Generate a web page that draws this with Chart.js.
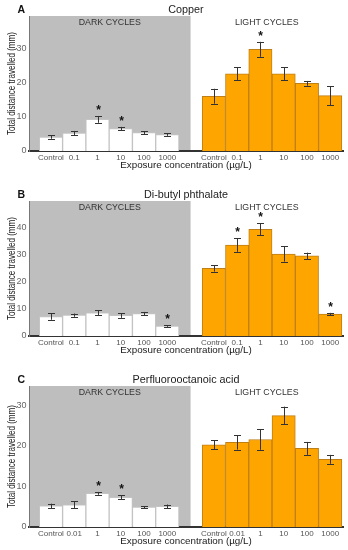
<!DOCTYPE html>
<html><head><meta charset="utf-8">
<script src="https://cdn.jsdelivr.net/npm/chart.js@4.4.1/dist/chart.umd.min.js"></script>
<style>
html,body{margin:0;padding:0;background:#fff;width:348px;height:550px;overflow:hidden;position:relative}
canvas{position:absolute;left:0}
</style></head><body>
<canvas id="cA" width="348" height="185" style="top:0px"></canvas>
<canvas id="cB" width="348" height="185" style="top:185px"></canvas>
<canvas id="cC" width="348" height="180" style="top:370px"></canvas>
<script>
// ---- data ----
const xLabelsA = ['Control','0.1','1','10','100','1000'];
const xLabelsB = ['Control','0.1','1','10','100','1000'];
const xLabelsC = ['Control','0.01','1','10','100','1000'];

const copperDark     = [4.1, 5.3, 9.3, 6.6, 5.4, 4.8];
const copperDarkErr  = [0.5, 0.6, 1.0, 0.5, 0.45, 0.35];
const copperLight    = [16.1, 22.7, 29.9, 22.7, 19.9, 16.3];
const copperLightErr = [2.2, 1.9, 2.2, 1.9, 0.7, 2.8];
const copperDarkSig  = [0,0,1,1,0,0];
const copperLightSig = [0,0,1,0,0,0];

const dbpDark     = [7.2, 7.7, 8.6, 7.6, 8.3, 3.7];
const dbpDarkErr  = [1.2, 0.6, 0.9, 0.9, 0.6, 0.3];
const dbpLight    = [25.0, 33.6, 39.4, 30.3, 29.6, 8.1];
const dbpLightErr = [1.2, 2.5, 2.2, 2.8, 1.2, 0.45];
const dbpDarkSig  = [0,0,0,0,0,1];
const dbpLightSig = [0,1,1,0,0,1];

const pfoaDark     = [5.2, 5.5, 8.3, 7.3, 4.9, 5.1];
const pfoaDarkErr  = [0.55, 0.8, 0.35, 0.5, 0.25, 0.45];
const pfoaLight    = [20.3, 20.9, 21.6, 27.5, 19.4, 16.7];
const pfoaLightErr = [1.15, 1.8, 2.55, 2.2, 1.6, 1.1];
const pfoaDarkSig  = [0,0,1,1,0,0];
const pfoaLightSig = [0,0,0,0,0,0];

const yTicksA = [0, 10, 20, 30];
const yTicksB = [0, 10, 20, 30, 40];
const yTicksC = [0, 10, 20, 30];

const FONT = '"Liberation Sans", Arial, Helvetica, sans-serif';
Chart.defaults.font.family = FONT;

function build(canvasId, letter, title, labels, dark, darkErr, light, lightErr, darkSig, lightSig, yTicks, yMax, plotH){
  const canvas = document.getElementById(canvasId);
  const H = canvas.height;
  const padTop = 16;
  const n = dark.length;
  const gapIdx = n;                 // empty slot between the two groups
  const lightStart = n + 1;
  const values = dark.concat(light);
  const errs = darkErr.concat(lightErr);
  const sigs = darkSig.concat(lightSig);
  const xs = dark.map((_, i) => i).concat(light.map((_, i) => lightStart + i));
  const tickLabels = {};
  labels.forEach((l, i) => { tickLabels[i] = l; tickLabels[lightStart + i] = l; });
  const bg = dark.map(() => '#ffffff').concat(light.map(() => '#ffa500'));
  const bd = dark.map(() => '#c4c4c4').concat(light.map(() => '#bf7f14'));

  const deco = {
    id: 'deco' + letter,
    beforeDraw(chart){
      const {ctx, chartArea: a, scales: {x}} = chart;
      ctx.save();
      ctx.fillStyle = '#bebebe';
      const xr = x.getPixelForValue(gapIdx);
      ctx.fillRect(a.left, a.top, xr - a.left, a.bottom - a.top);
      ctx.restore();
    },
    afterDatasetsDraw(chart){
      const {ctx, scales: {y}} = chart;
      const meta = chart.getDatasetMeta(0);
      ctx.save();
      ctx.strokeStyle = '#333';
      ctx.lineWidth = 1;
      values.forEach((v, i) => {
        const px = Math.round(meta.data[i].x) + 0.5;
        const yt = y.getPixelForValue(v + errs[i]);
        const yb = y.getPixelForValue(v - errs[i]);
        ctx.beginPath();
        ctx.moveTo(px, yt); ctx.lineTo(px, yb);
        ctx.moveTo(px - 3.5, Math.round(yt) + 0.5); ctx.lineTo(px + 3.5, Math.round(yt) + 0.5);
        ctx.moveTo(px - 3.5, Math.round(yb) + 0.5); ctx.lineTo(px + 3.5, Math.round(yb) + 0.5);
        ctx.stroke();
        if (sigs[i]) {
          ctx.fillStyle = '#111';
          ctx.font = 'bold 12px ' + FONT;
          ctx.textAlign = 'center';
          ctx.textBaseline = 'middle';
          ctx.fillText('*', px, yt - 5.5);
        }
      });
      ctx.restore();
    },
    afterDraw(chart){
      const {ctx, chartArea: a, scales: {x}} = chart;
      const xr = x.getPixelForValue(gapIdx);
      ctx.save();
      ctx.textBaseline = 'middle';
      // panel letter
      ctx.fillStyle = '#111';
      ctx.font = 'bold 10.5px ' + FONT;
      ctx.textAlign = 'left';
      ctx.fillText(letter, 17.5, a.top - 5.5);
      // title
      ctx.font = '10.8px ' + FONT;
      ctx.fillStyle = '#222';
      ctx.textAlign = 'center';
      ctx.fillText(title, (a.left + a.right) / 2, a.top - 5.5);
      // cycle labels
      ctx.font = '8.8px ' + FONT;
      ctx.fillStyle = '#333';
      ctx.fillText('DARK CYCLES', (a.left + xr) / 2, a.top + 6.5);
      ctx.fillText('LIGHT CYCLES', (xr + a.right) / 2, a.top + 6.5);
      // x title
      ctx.font = '9.8px ' + FONT;
      ctx.fillStyle = '#1a1a1a';
      ctx.fillText('Exposure concentration (\u00b5g/L)', (a.left + a.right) / 2, a.bottom + 13.8);
      // y title (vertically compressed like the reference)
      ctx.translate(12, (a.top + a.bottom) / 2);
      ctx.rotate(-Math.PI / 2);
      ctx.scale(0.79, 1);
      ctx.font = '10.2px ' + FONT;
      ctx.fillText('Total distance travelled (mm)', 0, 0);
      ctx.restore();
    }
  };

  return new Chart(canvas, {
    type: 'bar',
    data: {
      datasets: [{
        data: values.map((v, i) => ({x: xs[i], y: v})),
        backgroundColor: bg,
        borderColor: bd,
        borderWidth: 1,
        borderSkipped: 'bottom',
        barPercentage: 1,
        categoryPercentage: 1
      }]
    },
    options: {
      responsive: false,
      animation: false,
      events: [],
      layout: {padding: {top: padTop, right: 5, left: 0, bottom: 0}},
      plugins: {legend: {display: false}, tooltip: {enabled: false}, title: {display: false}},
      scales: {
        x: {
          type: 'linear',
          offset: false,
          min: -0.944,
          max: 12.55,
          grid: {display: false, drawTicks: false},
          border: {display: true, color: '#333', width: 2},
          afterBuildTicks(scale){ scale.ticks = Object.keys(tickLabels).map(k => ({value: +k})); },
          afterFit(scale){ scale.height = H - padTop - plotH; },
          ticks: {
            autoSkip: false, maxRotation: 0, minRotation: 0, padding: 2,
            color: '#555', font: {size: 8, family: FONT},
            callback: (v) => tickLabels[v] !== undefined ? tickLabels[v] : ''
          }
        },
        y: {
          min: 0,
          max: yMax,
          grid: {display: false, drawTicks: false},
          border: {display: true, color: '#777', width: 1},
          afterBuildTicks(scale){ scale.ticks = yTicks.map(v => ({value: v})); },
          afterFit(scale){ scale.width = 29; },
          ticks: {padding: 2.5, color: '#666', font: {size: 9, family: FONT}}
        }
      }
    },
    plugins: [deco]
  });
}

build('cA', 'A', 'Copper', xLabelsA, copperDark, copperDarkErr, copperLight, copperLightErr, copperDarkSig, copperLightSig, yTicksA, 39.7, 135);
build('cB', 'B', 'Di-butyl phthalate', xLabelsB, dbpDark, dbpDarkErr, dbpLight, dbpLightErr, dbpDarkSig, dbpLightSig, yTicksB, 49.9, 135);
build('cC', 'C', 'Perfluorooctanoic acid', xLabelsC, pfoaDark, pfoaDarkErr, pfoaLight, pfoaLightErr, pfoaDarkSig, pfoaLightSig, yTicksC, 34.8, 141);
</script>
</body></html>
